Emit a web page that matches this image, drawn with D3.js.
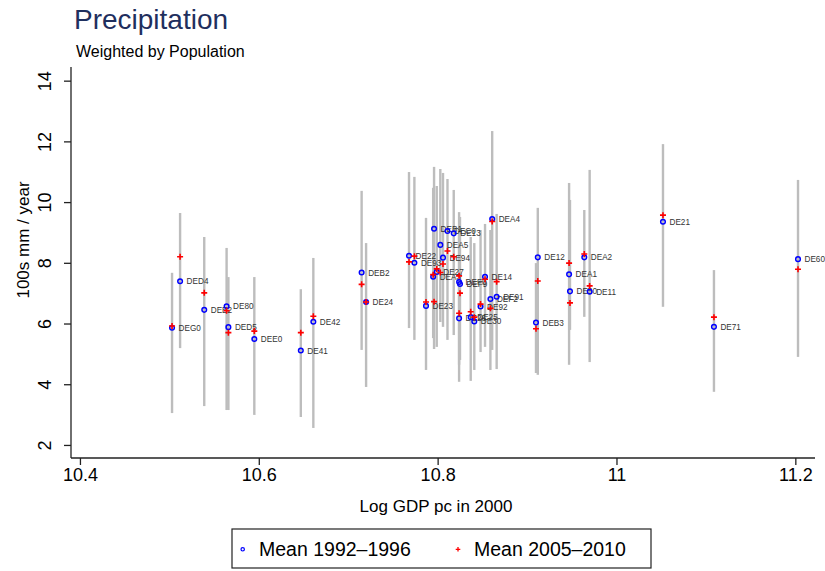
<!DOCTYPE html>
<html>
<head>
<meta charset="utf-8">
<script src="https://cdn.jsdelivr.net/npm/d3@7"></script>
<style>
  body { margin: 0; background: #fff; }
  text { font-family: "Liberation Sans", Arial, Helvetica, sans-serif; }
</style>
</head>
<body>
<svg id="chart" width="825" height="571"></svg>
<script>
// regions (NUTS-2), log gdp pc 2000, precipitation means, yearly range
var regions  = ["DEG0","DED4","DEE2","DE80","DED5","DEE0","DE41","DE42","DEB2","DE24",
                "DE22","DE93","DE23","DEA3","DEB1","DE27","DEA5","DE94","DEC0","DE13",
                "DEF0","DEF9","DE26","DE25","DE30","DE92","DE14","DEF2","DEA4","DE91",
                "DEB3","DE12","DEA1","DE50","DEA2","DE11","DE21","DE71","DE60"];
var gdp      = [10.503,10.512,10.539,10.564,10.566,10.595,10.647,10.661,10.715,10.720,
                10.768,10.774,10.787,10.795,10.796,10.799,10.803,10.806,10.811,10.818,
                10.824,10.825,10.824,10.837,10.841,10.848,10.853,10.859,10.861,10.866,
                10.910,10.912,10.947,10.948,10.964,10.970,11.052,11.109,11.203];
var mean9296 = [5.86,7.39,6.45,6.57,5.88,5.49,5.11,6.06,7.68,6.71,
                8.23,8.00,6.58,7.54,9.12,7.70,8.59,8.17,9.05,8.97,
                7.37,7.30,6.17,6.21,6.07,6.56,7.54,6.81,9.44,6.88,
                6.03,8.18,7.62,7.06,8.18,7.05,9.35,5.89,8.12];
var mean0510 = [5.92,8.20,7.01,6.42,5.70,5.75,5.70,6.24,7.29,6.71,
                8.03,8.22,6.71,7.61,6.72,7.80,7.68,7.96,8.39,8.20,
                7.57,7.00,6.34,6.39,6.21,6.64,7.46,6.50,9.36,7.38,
                5.83,7.40,7.99,6.68,8.29,7.24,9.57,6.21,7.79];
var rangeLo  = [3.05,5.19,3.28,3.15,3.15,2.99,2.92,2.56,5.13,3.91,
                5.85,5.46,4.47,5.52,5.16,5.23,6.05,5.89,5.46,5.62,
                4.08,4.80,4.64,4.11,4.47,5.06,5.23,4.47,5.13,4.50,
                4.37,4.31,4.64,5.79,6.22,4.73,6.55,3.75,4.90];
var rangeHi  = [7.67,9.64,8.85,8.49,7.53,7.53,7.13,8.16,10.37,8.65,
                10.99,10.83,9.48,10.47,11.16,10.53,11.09,10.96,10.76,10.40,
                9.67,9.51,9.08,8.85,8.65,9.08,9.28,9.08,12.34,9.61,
                7.99,9.81,10.63,10.07,9.74,11.06,11.91,7.76,10.73];
var xTicks = [10.4, 10.6, 10.8, 11, 11.2];
var yTicks = [2, 4, 6, 8, 10, 12, 14];
var legendLabels = ["Mean 1992\u20131996", "Mean 2005\u20132010"];

var data = regions.map(function(r, i){
  return {name: r, x: gdp[i], m1: mean9296[i], m2: mean0510[i], lo: rangeLo[i], hi: rangeHi[i]};
});

var svg = d3.select("#chart");

var x = d3.scaleLinear().domain([10.39, 11.222]).range([71, 815]);
var y = d3.scaleLinear().domain([1.57, 14.45]).range([458, 67]);

// titles
svg.append("text").attr("x", 74).attr("y", 29)
  .attr("font-size", 28).attr("fill", "#1f2f5e").text("Precipitation");
svg.append("text").attr("x", 76).attr("y", 57)
  .attr("font-size", 16).attr("fill", "#000").text("Weighted by Population");

// axes
var xAxis = d3.axisBottom(x).tickValues(xTicks).tickSize(7).tickPadding(3)
  .tickFormat(function(d){ return d3.format("")(d); });
var gx = svg.append("g").attr("transform", "translate(0,458)").call(xAxis);
gx.select(".domain").attr("d", "M71,0H815").attr("stroke", "#222").attr("stroke-width", 1.3);
gx.selectAll(".tick line").attr("stroke", "#222").attr("stroke-width", 1.3);
gx.selectAll(".tick text").attr("font-size", 18).attr("fill", "#000")
  .attr("font-family", "Liberation Sans, Arial, sans-serif");

var yAxis = d3.axisLeft(y).tickValues(yTicks).tickSize(7).tickPadding(0);
var gy = svg.append("g").attr("transform", "translate(71,0)").call(yAxis);
gy.select(".domain").attr("d", "M0,67V458").attr("stroke", "#222").attr("stroke-width", 1.3);
gy.selectAll(".tick line").attr("stroke", "#222").attr("stroke-width", 1.3);
gy.selectAll(".tick text").attr("font-size", 18).attr("fill", "#000")
  .attr("font-family", "Liberation Sans, Arial, sans-serif")
  .attr("x", null).attr("dy", null)
  .attr("text-anchor", "middle")
  .attr("transform", "translate(-20,0) rotate(-90)")
  .attr("y", 0);

svg.append("text")
  .attr("transform", "translate(29,240) rotate(-90)")
  .attr("text-anchor", "middle").attr("font-size", 17).attr("fill", "#000")
  .text("100s mm / year");
svg.append("text").attr("x", 436).attr("y", 512)
  .attr("text-anchor", "middle").attr("font-size", 17).attr("fill", "#000")
  .text("Log GDP pc in 2000");

// ranges
svg.append("g").selectAll("line").data(data).enter().append("line")
  .attr("x1", function(d){ return x(d.x); }).attr("x2", function(d){ return x(d.x); })
  .attr("y1", function(d){ return y(d.lo); }).attr("y2", function(d){ return y(d.hi); })
  .attr("stroke", "#bdbdbd").attr("stroke-width", 2.4);

// labels
svg.append("g").selectAll("text").data(data).enter().append("text")
  .attr("x", function(d){ return x(d.x) + 6.5; })
  .attr("y", function(d){ return y(d.m1) + 3; })
  .attr("font-size", 8.2).attr("fill", "#333")
  .text(function(d){ return d.name; });

// means 1992-1996
svg.append("g").selectAll("circle").data(data).enter().append("circle")
  .attr("cx", function(d){ return x(d.x); }).attr("cy", function(d){ return y(d.m1); })
  .attr("r", 2.3).attr("fill", "none").attr("stroke", "#0000ff").attr("stroke-width", 1.5);

// means 2005-2010
var plus = d3.symbol().type(d3.symbolCross);
svg.append("g").selectAll("path").data(data).enter().append("path")
  .attr("transform", function(d){ return "translate(" + x(d.x) + "," + y(d.m2) + ")"; })
  .attr("d", "M-3,0H3M0,-3V3")
  .attr("stroke", "#ff0000").attr("stroke-width", 1.6).attr("fill", "none");

// legend
var lg = svg.append("g");
lg.append("rect").attr("x", 232).attr("y", 529).attr("width", 419).attr("height", 39)
  .attr("fill", "#fff").attr("stroke", "#222").attr("stroke-width", 1.2);
lg.append("circle").attr("cx", 242.7).attr("cy", 549.3).attr("r", 1.7)
  .attr("fill", "none").attr("stroke", "#0000ff").attr("stroke-width", 1.2);
lg.append("path").attr("transform", "translate(458,549.3)").attr("d", "M-2.3,0H2.3M0,-2.3V2.3")
  .attr("stroke", "#ff0000").attr("stroke-width", 1.3);
lg.append("text").attr("x", 259).attr("y", 556).attr("font-size", 19.5).attr("fill", "#000").text(legendLabels[0]);
lg.append("text").attr("x", 474).attr("y", 556).attr("font-size", 19.5).attr("fill", "#000").text(legendLabels[1]);
</script>
</body>
</html>
